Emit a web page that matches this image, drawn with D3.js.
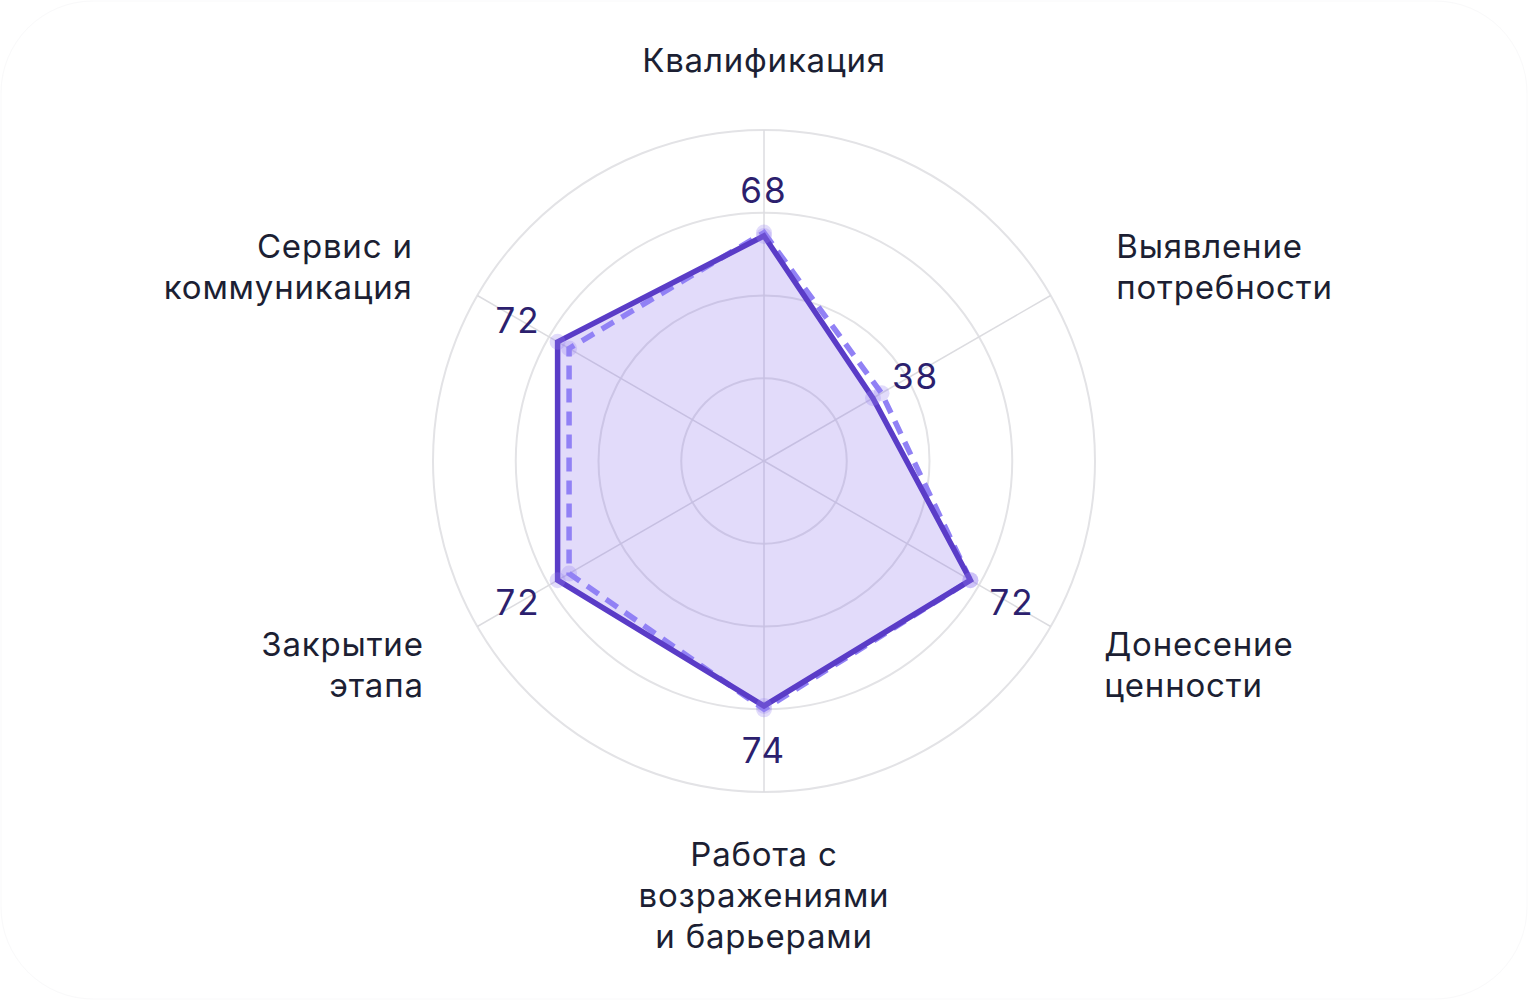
<!DOCTYPE html>
<html>
<head>
<meta charset="utf-8">
<script src="https://cdn.jsdelivr.net/npm/d3@7"></script>
<style>
  html, body { margin: 0; padding: 0; background: #ffffff; }
  svg { display: block; }
  text { font-family: Inter, "Noto Sans", sans-serif; }
</style>
</head>
<body>
<svg id="chart" width="1528" height="1000"></svg>
<script>
// ---- data ----
const categories = [
  ["Квалификация"],
  ["Выявление", "потребности"],
  ["Донесение", "ценности"],
  ["Работа с", "возражениями", "и барьерами"],
  ["Закрытие", "этапа"],
  ["Сервис и", "коммуникация"]
];
const currentValues = [68, 38, 72, 74, 72, 72];
const previousValues = [69, 41, 72, 75, 68, 68];
const gridTicks = [25, 50, 75, 100];
const maxValue = 100;

// ---- layout ----
const W = 1528, H = 1000;
const cx = 764, cy = 461;
const outerR = 331;

const svg = d3.select("#chart");

// faint card border
svg.append("rect")
  .attr("x", 1).attr("y", 1)
  .attr("width", W - 2).attr("height", H - 2)
  .attr("rx", 92).attr("ry", 92)
  .attr("fill", "#ffffff")
  .attr("stroke", "#f9f9fa").attr("stroke-width", 1);

const r = d3.scaleLinear().domain([0, maxValue]).range([0, outerR]);
const angle = d3.scaleLinear().domain([0, categories.length]).range([0, 2 * Math.PI]);

const g = svg.append("g").attr("transform", `translate(${cx},${cy})`);

// grid circles
g.selectAll("circle.grid").data(gridTicks).join("circle")
  .attr("class", "grid")
  .attr("r", d => r(d))
  .attr("fill", "none")
  .attr("stroke", "#e3e3e6")
  .attr("stroke-width", 2);

// spokes
g.selectAll("line.spoke").data(categories).join("line")
  .attr("class", "spoke")
  .attr("x1", 0).attr("y1", 0)
  .attr("x2", (d, i) => r(maxValue) * Math.sin(angle(i)))
  .attr("y2", (d, i) => -r(maxValue) * Math.cos(angle(i)))
  .attr("stroke", "#dcdce0")
  .attr("stroke-width", 1.5);

const radial = d3.lineRadial()
  .angle((d, i) => angle(i))
  .radius(d => r(d))
  .curve(d3.curveLinearClosed);

const pt = (v, i) => [r(v) * Math.sin(angle(i)), -r(v) * Math.cos(angle(i))];

// fill of current series
g.append("path")
  .attr("d", radial(currentValues))
  .attr("fill", "rgba(124, 92, 230, 0.22)")
  .attr("stroke", "none");

// previous (dashed)
g.append("path")
  .attr("d", radial(previousValues))
  .attr("fill", "none")
  .attr("stroke", "#9181f5")
  .attr("stroke-width", 5.5)
  .attr("stroke-dasharray", "14 9")
  .attr("stroke-linejoin", "miter");

g.selectAll("circle.prev").data(previousValues).join("circle")
  .attr("class", "prev")
  .attr("cx", (d, i) => pt(d, i)[0])
  .attr("cy", (d, i) => pt(d, i)[1])
  .attr("r", 8)
  .attr("fill", "rgba(150, 130, 240, 0.28)");

// current (solid)
g.append("path")
  .attr("d", radial(currentValues))
  .attr("fill", "none")
  .attr("stroke", "#5a3cc7")
  .attr("stroke-width", 5.5)
  .attr("stroke-linejoin", "miter");

g.selectAll("circle.cur").data(currentValues).join("circle")
  .attr("class", "cur")
  .attr("cx", (d, i) => pt(d, i)[0])
  .attr("cy", (d, i) => pt(d, i)[1])
  .attr("r", 8)
  .attr("fill", "rgba(150, 130, 240, 0.28)");

// value labels
g.selectAll("text.val").data(currentValues).join("text")
  .attr("class", "val")
  .each(function (d, i) {
    const a = angle(i);
    const s = Math.sin(a), c = Math.cos(a);
    const [px, py] = pt(d, i);
    let x = px, y = py, anchor = "middle";
    if (Math.abs(s) < 0.01) {
      if (c > 0) { y = py - 33; } else { y = py + 57; }
    } else {
      anchor = s > 0 ? "start" : "end";
      x = px + (s > 0 ? 19 : -17);
      y = c > 0 ? py - 9 : py + 35;
    }
    d3.select(this)
      .attr("x", x).attr("y", y)
      .attr("text-anchor", anchor);
  })
  .attr("font-size", 35)
  .attr("letter-spacing", 2)
  .attr("fill", "#2c1f6e")
  .text(d => d);

// category labels
const labelR = 386;
const lineH = 41;
g.selectAll("text.cat").data(categories).join("text")
  .attr("class", "cat")
  .each(function (lines, i) {
    const a = angle(i);
    const s = Math.sin(a), c = Math.cos(a);
    const px = labelR * s, py = -labelR * c;
    const t = d3.select(this);
    let anchor = "middle", x = px, firstBaseline;
    const n = lines.length;
    if (Math.abs(s) < 0.01) {
      if (c > 0) {
        firstBaseline = py - 3 - (n - 1) * lineH;
      } else {
        firstBaseline = py + 19;
      }
    } else {
      anchor = s > 0 ? "start" : "end";
      if (c > 0) {
        x = px + (s > 0 ? 18 : -17);
        firstBaseline = py - 10;
      } else {
        x = px + (s > 0 ? 6 : -6);
        firstBaseline = py + 2;
      }
    }
    t.attr("text-anchor", anchor);
    t.selectAll("tspan").data(lines).join("tspan")
      .attr("x", x)
      .attr("y", (l, k) => firstBaseline + k * lineH)
      .text(l => l);
  })
  .attr("font-size", 33)
  .attr("letter-spacing", 0.8)
  .attr("fill", "#1c1f33");
</script>
</body>
</html>
